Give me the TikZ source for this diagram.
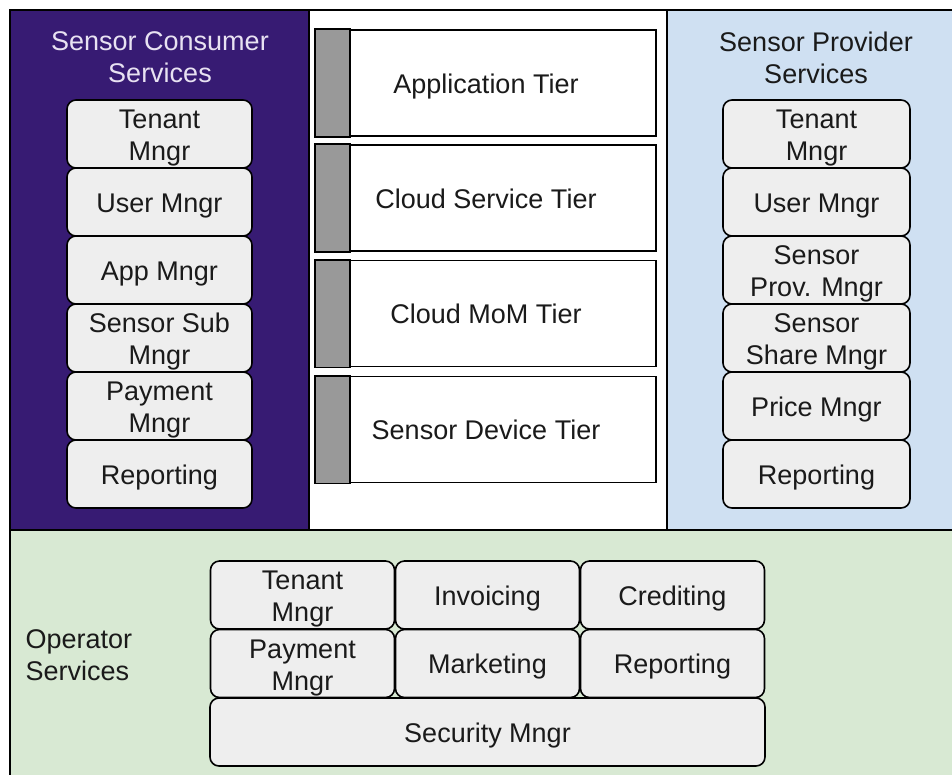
\documentclass[tikz,border=0pt]{standalone}
\usepackage{fontspec}
\setmainfont{Liberation Sans}
\definecolor{consumerbg}{HTML}{371B73}
\definecolor{providerbg}{HTML}{CFE0F2}
\definecolor{operatorbg}{HTML}{D8E9D3}
\definecolor{boxfill}{HTML}{EEEEEE}
\definecolor{stripgray}{HTML}{999999}
\definecolor{titlelav}{HTML}{E8E2F2}
\definecolor{ink}{HTML}{1A1A1A}
% two-line label with fixed height and depth so it sits centred in its box
\newcommand\twoline[2]{\rule{0pt}{26pt}\smash{\begin{tabular}[t]{@{}c@{}}#1\\#2\end{tabular}}\rule[-36.6pt]{0pt}{36.6pt}}
\begin{document}
\begin{tikzpicture}[x=1pt,y=-1pt,
  every node/.style={font=\fontsize{27}{32}\selectfont, text=ink},
  % fixed line height and depth so every label sits at the same optical centre
  evenstrut/.style={execute at begin node={\rule{0pt}{26pt}},
    execute at end node={\rule[-6pt]{0pt}{6pt}}},
  panel/.style={draw=black, line width=1.5pt},
  svcbox/.style={evenstrut, draw=black, fill=boxfill, line width=1.6pt, rounded corners=9pt,
    minimum height=68pt, inner sep=0pt, align=center},
  colbox/.style={svcbox, minimum width=185pt},
  opbox/.style={svcbox, minimum width=184pt},
  tierbox/.style={evenstrut, draw=black, fill=white, line width=1.8pt, minimum width=340pt,
    minimum height=106pt, inner sep=0pt},
  strip/.style={draw=black, fill=stripgray, line width=1.8pt},
  paneltitle/.style={align=center}
]
\useasboundingbox (0,0) rectangle (952,774);

% background panels
\draw[panel, fill=consumerbg] (10,10) rectangle (309,530);
\draw[panel, fill=white] (309,10) rectangle (667,530);
\draw[panel, fill=providerbg] (667,10) rectangle (962,530);
\draw[panel, fill=operatorbg] (10,530) rectangle (962,784);

% panel titles
\node[paneltitle, text=titlelav] (ctitle) at (160,57.5) {Sensor Consumer\\Services};
\node[paneltitle] (ptitle) at (816,57.5) {Sensor Provider\\Services};
\node[align=left, anchor=west] (otitle) at (22,655.5) {Operator\\Services};

% consumer services column
\node[colbox] (c1) at (159.5,134) {\twoline{Tenant}{Mngr}};
\node[colbox] (c2) at (159.5,202) {User Mngr};
\node[colbox] (c3) at (159.5,270) {App Mngr};
\node[colbox] (c4) at (159.5,338) {\twoline{Sensor Sub}{Mngr}};
\node[colbox] (c5) at (159.5,406) {\twoline{Payment}{Mngr}};
\node[colbox] (c6) at (159.5,474) {Reporting};

% provider services column
\node[colbox, minimum width=187pt] (p1) at (816.5,134) {\twoline{Tenant}{Mngr}};
\node[colbox, minimum width=187pt] (p2) at (816.5,202) {User Mngr};
\node[colbox, minimum width=187pt] (p3) at (816.5,270) {\twoline{Sensor}{Prov. Mngr}};
\node[colbox, minimum width=187pt] (p4) at (816.5,338) {\twoline{Sensor}{Share Mngr}};
\node[colbox, minimum width=187pt] (p5) at (816.5,406) {Price Mngr};
\node[colbox, minimum width=187pt] (p6) at (816.5,474) {Reporting};

% tiers
\node[tierbox] (t1) at (486,83) {Application Tier};
\node[tierbox] (t2) at (486,198) {Cloud Service Tier};
\node[tierbox] (t3) at (486,313.5) {Cloud MoM Tier};
\node[tierbox] (t4) at (486,429.5) {Sensor Device Tier};
\foreach \t in {t1,t2,t3,t4}
  \draw[strip] (\t.north west) rectangle ([xshift=35pt]\t.south west);

% operator services
\node[opbox] (o1) at (302.5,595) {\twoline{Tenant}{Mngr}};
\node[opbox] (o2) at (487.5,595) {Invoicing};
\node[opbox] (o3) at (672.5,595) {Crediting};
\node[opbox] (o4) at (302.5,663.5) {\twoline{Payment}{Mngr}};
\node[opbox] (o5) at (487.5,663.5) {Marketing};
\node[opbox] (o6) at (672.5,663.5) {Reporting};
\node[svcbox, minimum width=555pt] (o7) at (487.5,732) {Security Mngr};
\end{tikzpicture}
\end{document}
